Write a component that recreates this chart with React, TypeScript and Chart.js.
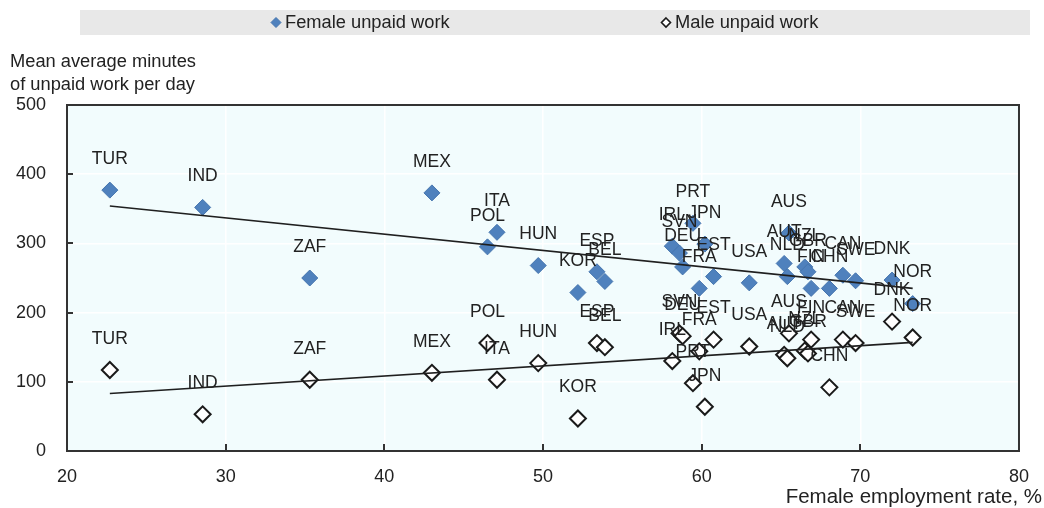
import React, { useEffect, useRef } from 'react';
import { Chart, registerables } from 'chart.js';

Chart.register(...registerables);

// ---- Data ----
const countries = [
  'TUR', 'IND', 'ZAF', 'MEX', 'POL', 'ITA', 'HUN', 'KOR', 'ESP', 'BEL',
  'IRL', 'SVN', 'DEU', 'PRT', 'FRA', 'JPN', 'EST', 'USA', 'AUT', 'AUS',
  'NLD', 'NZL', 'GBR', 'FIN', 'CHN', 'CAN', 'SWE', 'DNK', 'NOR',
];
const femaleEmploymentRate = [
  22.7, 28.55, 35.3, 43.0, 46.5, 47.1, 49.7, 52.2, 53.4, 53.9,
  58.15, 58.6, 58.8, 59.45, 59.85, 60.2, 60.75, 63.0, 65.2, 65.5,
  65.4, 66.5, 66.7, 66.9, 68.05, 68.9, 69.7, 72.0, 73.3,
];
const femaleUnpaidWork = [
  377, 352, 250, 373, 295, 316, 268, 229, 259, 245,
  296, 286, 266, 329, 235, 299, 252, 243, 271, 315,
  252, 266, 259, 235, 235, 254, 246, 247, 213,
];
const maleUnpaidWork = [
  117, 53, 103, 113, 156, 103, 127, 47, 156, 150,
  130, 170, 166, 98, 144, 64, 161, 151, 139, 170,
  134, 145, 141, 161, 92, 161, 156, 187, 164,
];
const femaleTrendX = [22.7, 73.3];
const femaleTrendY = [354, 235];
const maleTrendX = [22.7, 73.3];
const maleTrendY = [83, 157];

const xTickValues = [20, 30, 40, 50, 60, 70, 80];
const yTickValues = [0, 100, 200, 300, 400, 500];

const legendLabels = ['Female unpaid work', 'Male unpaid work'];
const yTitleLines = ['Mean average minutes', 'of unpaid work per day'];
const xTitle = 'Female employment rate, %';

const FONT = '"Liberation Sans", Arial, sans-serif';
const TEXT_COLOR = '#222222';
const FEMALE_FILL = '#4F81BD';
const FEMALE_BORDER = '#4575AE';

function diamond(ctx: CanvasRenderingContext2D, x: number, y: number, r: number) {
  ctx.beginPath();
  ctx.moveTo(x, y - r);
  ctx.lineTo(x + r, y);
  ctx.lineTo(x, y + r);
  ctx.lineTo(x - r, y);
  ctx.closePath();
}

const decorPlugin = {
  id: 'decor',
  beforeDraw(chart: any) {
    const { ctx, chartArea } = chart;
    ctx.save();
    ctx.fillStyle = '#F2FCFD';
    ctx.fillRect(chartArea.left, chartArea.top, chartArea.right - chartArea.left, chartArea.bottom - chartArea.top);
    ctx.restore();
  },
  afterDatasetsDraw(chart: any) {
    const { ctx } = chart;
    ctx.save();
    ctx.font = `17.5px ${FONT}`;
    ctx.fillStyle = TEXT_COLOR;
    ctx.textAlign = 'center';
    ctx.textBaseline = 'middle';
    [0, 1].forEach((di) => {
      const meta = chart.getDatasetMeta(di);
      meta.data.forEach((el: any, i: number) => {
        ctx.fillText(countries[i], el.x, el.y - 31);
      });
    });
    ctx.restore();
  },
  afterDraw(chart: any) {
    const { ctx, chartArea, scales } = chart;
    ctx.save();
    // plot frame
    ctx.strokeStyle = '#333333';
    ctx.lineWidth = 2;
    ctx.strokeRect(chartArea.left, chartArea.top, chartArea.right - chartArea.left, chartArea.bottom - chartArea.top);
    // inward tick marks
    ctx.lineWidth = 2;
    ctx.beginPath();
    xTickValues.slice(1, -1).forEach((v) => {
      const px = Math.round(scales.x.getPixelForValue(v));
      ctx.moveTo(px, chartArea.bottom);
      ctx.lineTo(px, chartArea.bottom - 7);
    });
    yTickValues.slice(1, -1).forEach((v) => {
      const py = Math.round(scales.y.getPixelForValue(v));
      ctx.moveTo(chartArea.left, py);
      ctx.lineTo(chartArea.left + 6, py);
    });
    ctx.stroke();

    // legend band
    ctx.fillStyle = '#E8E8E8';
    ctx.fillRect(80, 10, 950, 25);
    ctx.font = `18.3px ${FONT}`;
    ctx.textBaseline = 'middle';
    ctx.textAlign = 'left';
    // female
    diamond(ctx, 276, 22.5, 5);
    ctx.fillStyle = FEMALE_FILL;
    ctx.fill();
    ctx.strokeStyle = FEMALE_BORDER;
    ctx.lineWidth = 1;
    ctx.stroke();
    ctx.fillStyle = TEXT_COLOR;
    ctx.fillText(legendLabels[0], 285, 23);
    // male
    diamond(ctx, 666, 22.5, 4.5);
    ctx.fillStyle = '#ffffff';
    ctx.fill();
    ctx.strokeStyle = '#1a1a1a';
    ctx.lineWidth = 1.6;
    ctx.stroke();
    ctx.fillStyle = TEXT_COLOR;
    ctx.fillText(legendLabels[1], 675, 23);

    // y title
    ctx.textAlign = 'left';
    ctx.fillText(yTitleLines[0], 10, 62);
    ctx.fillText(yTitleLines[1], 10, 85);
    // x title
    ctx.textAlign = 'right';
    ctx.font = `20.5px ${FONT}`;
    ctx.fillText(xTitle, 1042, 497);
    ctx.restore();
  },
};

export default function App() {
  const canvasRef = useRef<HTMLCanvasElement | null>(null);

  useEffect(() => {
    if (!canvasRef.current) return;
    const femalePoints = femaleEmploymentRate.map((x, i) => ({ x, y: femaleUnpaidWork[i] }));
    const malePoints = femaleEmploymentRate.map((x, i) => ({ x, y: maleUnpaidWork[i] }));
    const femaleTrend = femaleTrendX.map((x, i) => ({ x, y: femaleTrendY[i] }));
    const maleTrend = maleTrendX.map((x, i) => ({ x, y: maleTrendY[i] }));

    const chart = new Chart(canvasRef.current, {
      type: 'scatter',
      data: {
        datasets: [
          {
            label: legendLabels[0],
            data: femalePoints,
            pointStyle: 'rectRot',
            pointRadius: 8,
            backgroundColor: FEMALE_FILL,
            borderColor: FEMALE_BORDER,
            borderWidth: 1,
            order: 2,
          },
          {
            label: legendLabels[1],
            data: malePoints,
            pointStyle: 'rectRot',
            pointRadius: 8,
            backgroundColor: '#ffffff',
            borderColor: '#1a1a1a',
            borderWidth: 2,
            order: 2,
          },
          {
            label: 'Female trend',
            data: femaleTrend,
            showLine: true,
            pointRadius: 0,
            borderColor: '#1f1f1f',
            borderWidth: 1.6,
            order: 1,
          },
          {
            label: 'Male trend',
            data: maleTrend,
            showLine: true,
            pointRadius: 0,
            borderColor: '#1f1f1f',
            borderWidth: 1.6,
            order: 1,
          },
        ],
      },
      options: {
        responsive: false,
        animation: false,
        events: [],
        layout: { padding: { top: 105, right: 24, left: 0, bottom: 0 } },
        plugins: {
          legend: { display: false },
          title: { display: false },
          tooltip: { enabled: false },
        },
        scales: {
          x: {
            type: 'linear',
            min: 20,
            max: 80,
            afterFit: (s: any) => { s.height = 57; },
            afterBuildTicks: (s: any) => { s.ticks = xTickValues.map((v) => ({ value: v })); },
            grid: { color: '#ffffff', lineWidth: 1.5, drawTicks: false },
            border: { display: false },
            ticks: {
              padding: 15,
              color: TEXT_COLOR,
              font: { family: FONT, size: 18 },
            },
          },
          y: {
            type: 'linear',
            min: 0,
            max: 500,
            afterFit: (s: any) => { s.width = 67; },
            afterBuildTicks: (s: any) => { s.ticks = yTickValues.map((v) => ({ value: v })); },
            grid: { color: '#ffffff', lineWidth: 1.5, drawTicks: false },
            border: { display: false },
            ticks: {
              padding: 21,
              color: TEXT_COLOR,
              font: { family: FONT, size: 18 },
            },
          },
        },
      },
      plugins: [decorPlugin],
    });
    return () => chart.destroy();
  }, []);

  return (
    <div style={{ position: 'fixed', left: 0, top: 0, width: 1044, height: 508, background: '#ffffff' }}>
      <canvas ref={canvasRef} width={1044} height={508} style={{ width: 1044, height: 508, display: 'block' }} />
    </div>
  );
}
